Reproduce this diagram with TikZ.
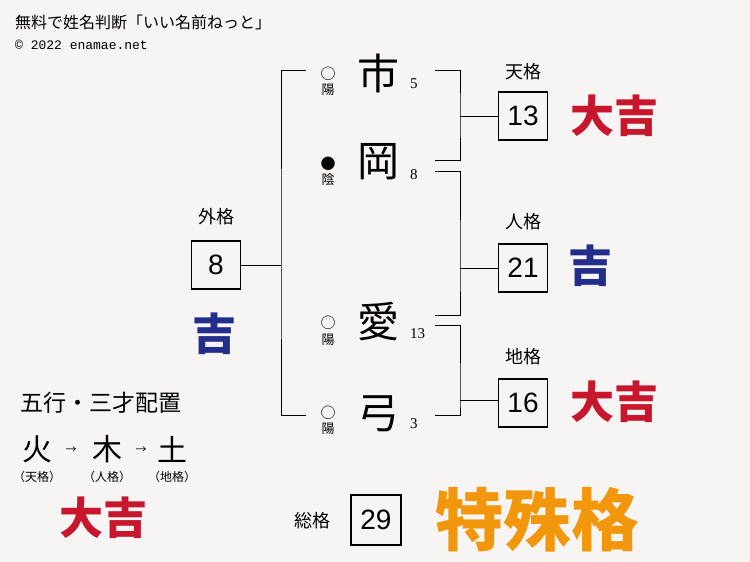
\documentclass[tikz,border=0pt]{standalone}
\usepackage{fontspec}
\setmainfont{Liberation Serif}
\newfontfamily\cjk{Noto Sans CJK JP}
\newfontfamily\boxfont{Liberation Sans}
\newfontfamily\monofont{Liberation Mono}
\usetikzlibrary{positioning}
\definecolor{paperbg}{RGB}{246,245,243}
\definecolor{luckred}{RGB}{200,22,45}
\definecolor{luckblue}{RGB}{35,45,140}
\definecolor{luckorange}{RGB}{242,150,12}

\begin{document}
\begin{tikzpicture}[x=1pt,y=-1pt,
    kakubox/.style={draw,line width=1.4pt,minimum width=49pt,minimum height=48pt,inner sep=0pt,font=\boxfont\fontsize{28}{28}\selectfont},
    kakulabel/.style={font=\cjk\fontsize{18}{18}\selectfont,inner sep=0pt},
    namechar/.style={font=\cjk\fontsize{42}{42}\selectfont,inner sep=0pt},
    yinyang/.style={font=\cjk\fontsize{13}{13}\selectfont,inner sep=0pt},
    strokes/.style={font=\fontsize{15}{15}\selectfont,inner sep=0pt,anchor=west},
    verdict/.style={font=\cjk\bfseries\fontsize{44}{44}\selectfont,inner sep=0pt},
    bracket/.style={line width=1pt}]
  \fill[paperbg] (0,0) rectangle (750,562);
  \useasboundingbox (0,0) rectangle (750,562);

  \node[font=\cjk\fontsize{16}{16}\selectfont,anchor=west,inner sep=0pt] (title) at (15,22) {無料で姓名判断「いい名前ねっと」};
  \node[font=\monofont\fontsize{13}{13}\selectfont,anchor=west,inner sep=0pt] (copy) at (15,45) {© 2022 enamae.net};

  \node[namechar] (c1) at (378,73) {市};
  \node[namechar] (c2) at (378,162) {岡};
  \node[namechar] (c3) at (378,322) {愛};
  \node[namechar] (c4) at (378,414) {弓};

  \node[yinyang,font=\cjk\fontsize{15}{15}\selectfont] (m1) at (328,74) {○};
  \node[yinyang] (y1) at (328,90) {陽};
  \node[yinyang,font=\cjk\fontsize{15}{15}\selectfont] (m2) at (328,164) {●};
  \node[yinyang] (y2) at (328,180) {陰};
  \node[yinyang,font=\cjk\fontsize{15}{15}\selectfont] (m3) at (328,323) {○};
  \node[yinyang] (y3) at (328,340) {陽};
  \node[yinyang,font=\cjk\fontsize{15}{15}\selectfont] (m4) at (328,413) {○};
  \node[yinyang] (y4) at (328,429) {陽};

  \node[strokes] (n1) at (410,84) {5};
  \node[strokes] (n2) at (410,175) {8};
  \node[strokes] (n3) at (410,334) {13};
  \node[strokes] (n4) at (410,424) {3};

  \node[kakubox] (gai) at (216,265) {8};
  \node[kakulabel] (gailbl) at (216,217) {外格};
  \node[kakubox] (ten) at (523,116) {13};
  \node[kakulabel] (tenlbl) at (523,72) {天格};
  \node[kakubox] (jin) at (523,268) {21};
  \node[kakulabel] (jinlbl) at (523,222) {人格};
  \node[kakubox] (chi) at (523,403) {16};
  \node[kakulabel] (chilbl) at (523,357) {地格};
  \node[kakubox,minimum width=50pt,minimum height=50pt] (sou) at (376,520) {29};
  \node[kakulabel] (soulbl) at (312,521) {総格};

  \coordinate (lt) at (306,70);
  \coordinate (lb) at (306,415);
  \coordinate (lspine) at (281,265);
  \draw[bracket] (lt) -| (lspine) |- (lb);
  \draw[bracket] (gai) -- (lspine);

  \coordinate (a1) at (435,70);
  \coordinate (a2) at (435,160);
  \coordinate (rs1) at (460,116);
  \draw[bracket] (a1) -| (rs1) |- (a2);
  \draw[bracket] (rs1) -- (ten);

  \coordinate (b1) at (435,171);
  \coordinate (b2) at (435,315);
  \coordinate (rs2) at (460,268);
  \draw[bracket] (b1) -| (rs2) |- (b2);
  \draw[bracket] (rs2) -- (jin);

  \coordinate (d1) at (435,325);
  \coordinate (d2) at (435,415);
  \coordinate (rs3) at (460,400);
  \draw[bracket] (d1) -| (rs3) |- (d2);
  \draw[bracket] (rs3) -- (chi.west |- rs3);

  \node[verdict,text=luckred] (tenres) at (614,116) {大吉};
  \node[verdict,text=luckblue] (jinres) at (590,266) {吉};
  \node[verdict,text=luckred] (chires) at (614,402) {大吉};
  \node[verdict,text=luckblue] (gaires) at (214,334) {吉};
  \node[verdict,text=luckorange,font=\cjk\bfseries\fontsize{68}{68}\selectfont] (soures) at (537,520) {特殊格};

  \node[font=\cjk\fontsize{23}{23}\selectfont,anchor=west,inner sep=0pt] (gogyo) at (20,403) {五行・三才配置};
  \node[font=\cjk\fontsize{30}{30}\selectfont,inner sep=0pt] (e1) at (37,449) {火};
  \node[font=\cjk\fontsize{30}{30}\selectfont,inner sep=0pt] (e2) at (107,449) {木};
  \node[font=\cjk\fontsize{30}{30}\selectfont,inner sep=0pt] (e3) at (172,449) {土};
  \node[font=\cjk\fontsize{11}{11}\selectfont,inner sep=0pt] (ar1) at (71,450) {→};
  \node[font=\cjk\fontsize{11}{11}\selectfont,inner sep=0pt] (ar2) at (141,450) {→};
  \node[font=\cjk\fontsize{12}{12}\selectfont,inner sep=0pt] (p1) at (37,477) {（天格）};
  \node[font=\cjk\fontsize{12}{12}\selectfont,inner sep=0pt] (p2) at (107,477) {（人格）};
  \node[font=\cjk\fontsize{12}{12}\selectfont,inner sep=0pt] (p3) at (172,477) {（地格）};
  \node[verdict,text=luckred] (sanres) at (103,518) {大吉};
\end{tikzpicture}
\end{document}
